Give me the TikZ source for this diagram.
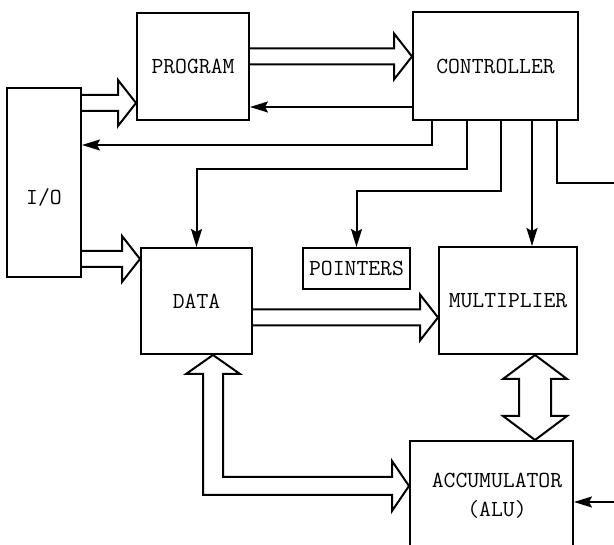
\documentclass[tikz,border=0pt]{standalone}
\usepackage{fontspec}
\usetikzlibrary{arrows.meta,calc}
\tikzset{>={Stealth[length=18pt,width=11pt,inset=3pt]}}
\tikzset{
    box/.style={draw, line width=2pt, inner sep=2pt, font=\fontsize{23}{29}\selectfont\ttfamily},
    txt/.style={inner sep=0pt, align=center, font=\fontsize{23}{29}\selectfont\ttfamily},
    sig/.style={->, line width=2pt},
    bus/.style={draw, line width=2pt, line join=miter},
}
% hollow horizontal bus arrow, tail #1 to tip #2
\newcommand{\hbus}[2]{
    \draw[bus] ($(#1)+(0,-8)$) -- ($(#2)+(-18,-8)$) -- ($(#2)+(-18,-23)$) -- (#2)
        -- ($(#2)+(-18,23)$) -- ($(#2)+(-18,8)$) -- ($(#1)+(0,8)$);
}

\begin{document}
\begin{tikzpicture}[x=1pt,y=-1pt]
    \useasboundingbox (0,0) rectangle (614,545);
    \clip (0,0) rectangle (614,545);

    % blocks
    \node[box, minimum width=112, minimum height=107] (program) at (193,66.5) {PROGRAM};
    \node[box, minimum width=165, minimum height=108] (ctrl) at (495.5,66) {CONTROLLER};
    \node[box, minimum width=74, minimum height=189] (io) at (44,182.5) {};
    \node[txt] (iotext) at (44,197) {I/O};
    \node[box, minimum width=111, minimum height=106] (data) at (196.5,301) {DATA};
    \node[box, minimum width=107, minimum height=41] (ptr) at (356.5,268.5) {POINTERS};
    \node[box, minimum width=138, minimum height=107] (mult) at (508,300.5) {MULTIPLIER};
    \node[box, minimum width=163, minimum height=110] (acc) at (491.5,496) {};
    \node[txt] (acctext) at (497,496) {ACCUMULATOR\\(ALU)};

    % loose ends on the right
    \coordinate (outR) at (620,183);
    \coordinate (inR) at (620,502);

    % buses
    \hbus{io.east |- 0,103}{program.west |- 0,103}
    \hbus{io.east |- 0,259}{data.west |- 0,259}
    \hbus{program.east |- 0,56.5}{ctrl.west |- 0,56.5}
    \hbus{data.east |- 0,317.5}{mult.west |- 0,317.5}
    \draw[bus] (mult.south -| 535,0) -- (567,379) -- (551,379) -- (551,416) -- (567,416)
        -- (acc.north -| 535,0) -- (503,416) -- (519,416) -- (519,379) -- (503,379) -- cycle;
    \draw[bus] (data.south -| 213,0) -- (240,374) -- (223,374) -- (223,477) -- (392,477)
        -- (392,461) -- (acc.west |- 0,486) -- (392,511) -- (392,495) -- (203,495)
        -- (203,374) -- (186,374) -- cycle;

    % control lines
    \draw[sig] (ctrl.west |- 0,107) -- (program.east |- 0,107);
    \draw[sig] (ctrl.south -| 432,0) |- (io.east |- 0,145);
    \draw[sig] (ctrl.south -| 467,0) -- ++(0,48) -| (data.north);
    \draw[sig] (ctrl.south -| 501,0) -- ++(0,70) -| (ptr.north);
    \draw[sig] (ctrl.south -| 532,0) -- (mult.north -| 532,0);
    \draw[line width=2pt] (ctrl.south -| 557,0) |- (outR);
    \draw[sig] (inR) -- (acc.east |- inR);
\end{tikzpicture}
\end{document}
